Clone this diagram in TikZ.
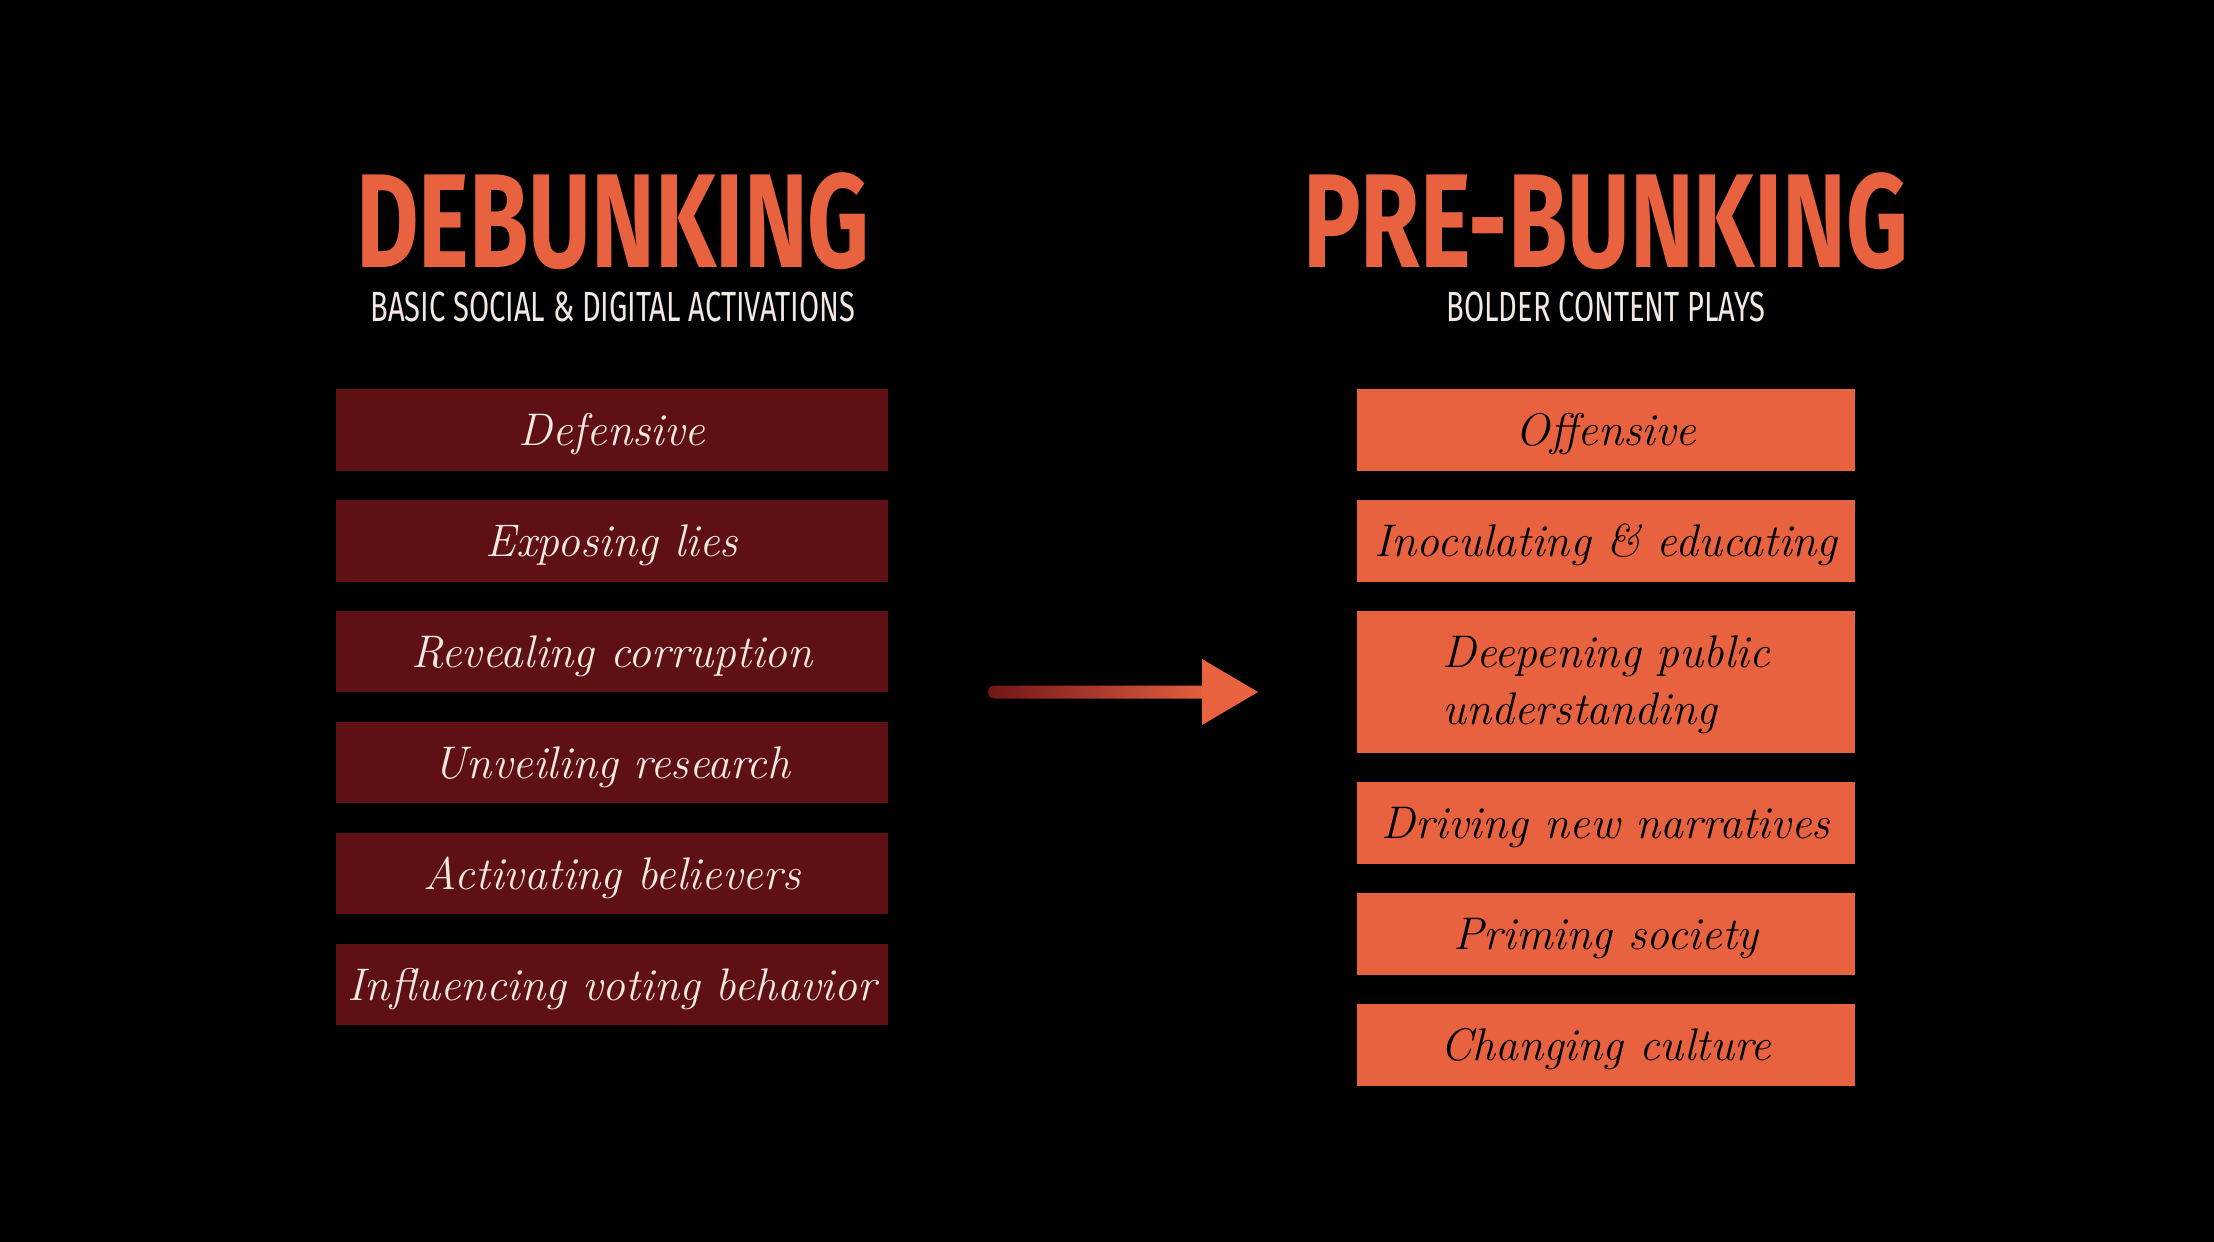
\documentclass[tikz,border=0pt]{standalone}
\usepackage{fontspec}
\usepackage{xcolor}
\usetikzlibrary{positioning,shadings}

\newfontfamily\headfont[FakeStretch=0.72]{Fira Sans}
\newfontfamily\subheadfont[FakeStretch=0.69]{Fira Sans}

\definecolor{debred}{RGB}{95,16,21}
\definecolor{preorange}{RGB}{232,98,63}
\definecolor{paletext}{RGB}{244,232,226}
\definecolor{arrowred}{RGB}{112,22,24}

\begin{document}
\begin{tikzpicture}[x=0.01cm, y=-0.01cm, node distance=0.285cm,
    debox/.style={fill=debred, text=paletext, minimum width=5.51cm, minimum height=0.81cm, inner sep=0pt,
        text height=9pt, text depth=0pt, font=\itshape\fontsize{13}{16}\selectfont},
    prebox/.style={fill=preorange, text=black, minimum width=4.98cm, minimum height=0.82cm, inner sep=0pt,
        align=left, text height=9pt, text depth=0pt, font=\itshape\fontsize{13}{16}\selectfont},
    headline/.style={text=preorange, anchor=base, inner sep=0pt, text depth=0pt, font=\headfont\bfseries\fontsize{38}{40}\selectfont},
    subline/.style={text=paletext, anchor=base, inner sep=0pt, text height=8.5pt, font=\subheadfont\fontsize{12}{14}\selectfont}]
    % background
    \fill[black] (0,0) rectangle (2214,1242);

    % headings
    \node[headline] (debunk) at (613,267) {DEBUNKING};
    \node[subline] (debunksub) at (613,321) {BASIC SOCIAL \& DIGITAL ACTIVATIONS};
    \node[headline] (prebunk) at (1606,267) {PRE-BUNKING};
    \node[subline] (prebunksub) at (1606,321) {BOLDER CONTENT PLAYS};

    % debunking column
    \node[debox] (de1) at (612,430) {Defensive};
    \foreach \i/\name in {2/Exposing lies,3/Revealing corruption,4/Unveiling research,5/Activating believers,6/Influencing voting behavior}{
        \pgfmathtruncatemacro\prev{\i-1}
        \node[debox, below=of de\prev] (de\i) {\name};}

    % pre-bunking column
    \node[prebox] (pre1) at (1606,430) {Offensive};
    \node[prebox, below=0.275cm of pre1] (pre2) {Inoculating \& educating};
    \node[prebox, below=0.275cm of pre2, minimum height=1.42cm, text height=24pt] (pre3) {Deepening public\\understanding};
    \node[prebox, below=0.275cm of pre3] (pre4) {Driving new narratives};
    \node[prebox, below=0.275cm of pre4] (pre5) {Priming society};
    \node[prebox, below=0.275cm of pre5] (pre6) {Changing culture};

    % arrow
    \coordinate (tail) at (988,692);
    \coordinate (tip) at (1258,692);
    \shade[left color=arrowred, right color=preorange, rounded corners=1.8pt] (tail) ++(0,-6.5) rectangle (1212,698.5);
    \fill[preorange] (1202,659) -- (tip) -- (1202,725) -- cycle;
\end{tikzpicture}
\end{document}
